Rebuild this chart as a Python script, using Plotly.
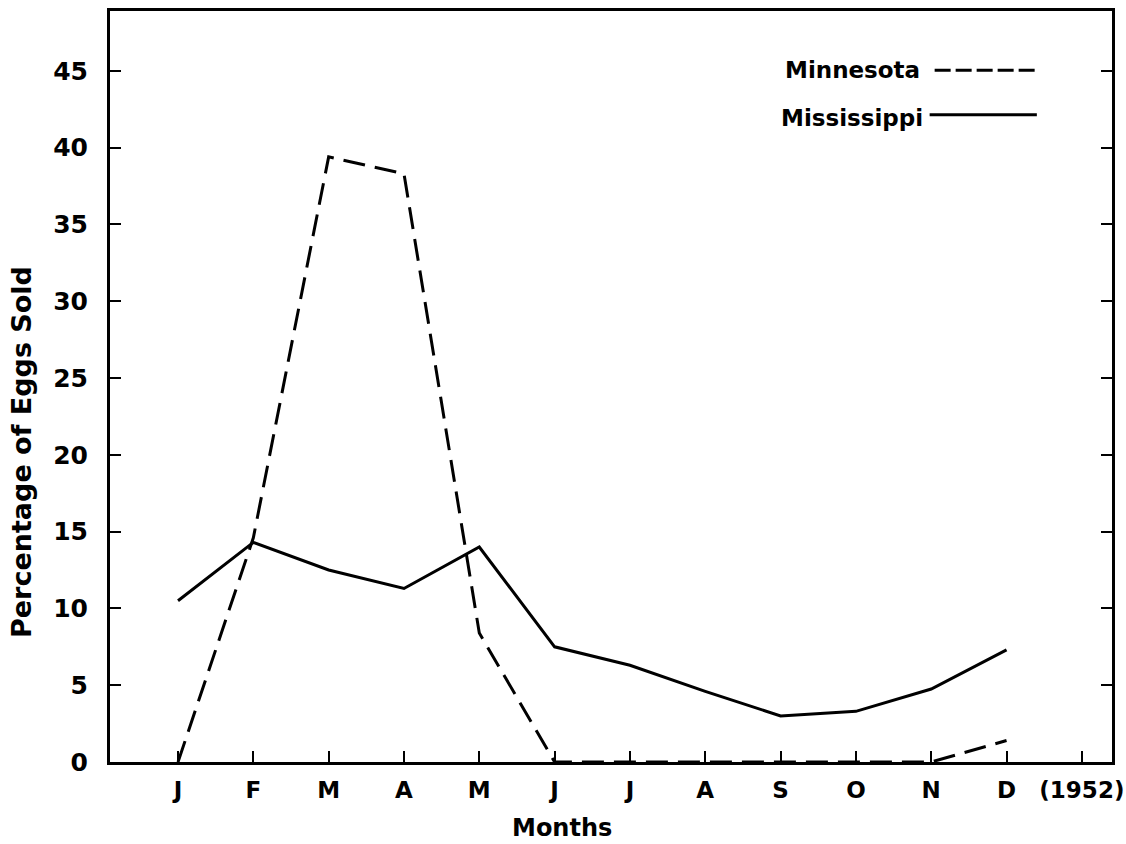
import plotly.graph_objects as go

months = ["J", "F", "M", "A", "M", "J", "J", "A", "S", "O", "N", "D"]
tick_labels = months + ["(1952)"]
minnesota = [0.0, 14.6, 39.4, 38.3, 8.4, 0.0, 0.0, 0.0, 0.0, 0.0, 0.0, 1.4]
mississippi = [10.5, 14.3, 12.5, 11.3, 14.0, 7.5, 6.3, 4.6, 3.0, 3.3, 4.75, 7.3]
y_ticks = [0, 5, 10, 15, 20, 25, 30, 35, 40, 45]

x_idx = list(range(len(months)))
FONT = "DejaVu Sans"

fig = go.Figure()
fig.add_trace(go.Scatter(x=x_idx, y=minnesota, mode="lines", name="Minnesota",
                         line=dict(color="black", width=3, dash="22px,10px"),
                         showlegend=False))
fig.add_trace(go.Scatter(x=x_idx, y=mississippi, mode="lines", name="Mississippi",
                         line=dict(color="black", width=3),
                         showlegend=False))

fig.update_layout(
    width=1126, height=844,
    margin=dict(l=110, r=14, t=11, b=82, autoexpand=False),
    paper_bgcolor="white", plot_bgcolor="white",
    font=dict(family=FONT, size=24, color="black"),
    xaxis=dict(range=[-0.903, 12.40], tickmode="array",
               tickvals=list(range(len(tick_labels))), ticktext=tick_labels,
               ticks="inside", ticklen=11, tickwidth=2, tickcolor="black",
               showline=True, linecolor="black", linewidth=3, mirror=True,
               showgrid=False, zeroline=False, ticklabelstandoff=5,
               automargin=False,
               tickfont=dict(family=FONT, size=23, color="black", weight="bold")),
    yaxis=dict(range=[0, 48.9], tickmode="array", tickvals=y_ticks,
               ticks="inside", ticklen=11, tickwidth=2, tickcolor="black",
               showline=True, linecolor="black", linewidth=3, mirror="ticks",
               showgrid=False, zeroline=False, ticklabelstandoff=14,
               automargin=False,
               tickfont=dict(family=FONT, size=25, color="black", weight="bold")),
    annotations=[
        dict(text="Percentage of Eggs Sold", xref="paper", yref="paper",
             x=-0.0878, y=0.4128, xanchor="center", yanchor="middle",
             textangle=-90, showarrow=False,
             font=dict(family=FONT, size=27, color="black", weight="bold")),
        dict(text="Months", xref="paper", yref="paper",
             x=0.451, y=-0.0879, xanchor="center", yanchor="middle",
             showarrow=False,
             font=dict(family=FONT, size=24, color="black", weight="bold")),
        dict(text="Minnesota", xref="paper", yref="paper",
             x=0.810, y=0.921, xanchor="right", yanchor="middle",
             showarrow=False,
             font=dict(family=FONT, size=23, color="black", weight="bold")),
        dict(text="Mississippi", xref="paper", yref="paper",
             x=0.813, y=0.858, xanchor="right", yanchor="middle",
             showarrow=False,
             font=dict(family=FONT, size=23, color="black", weight="bold")),
    ],
    shapes=[
        dict(type="line", xref="paper", yref="paper", x0=0.823, x1=0.925,
             y0=0.921, y1=0.921, line=dict(color="black", width=3, dash="16px,5px")),
        dict(type="line", xref="paper", yref="paper", x0=0.818, x1=0.925,
             y0=0.862, y1=0.862, line=dict(color="black", width=3)),
    ],
)

fig.write_html("out.html", config={"displayModeBar": False},
               post_script="document.body.style.margin='0';")
